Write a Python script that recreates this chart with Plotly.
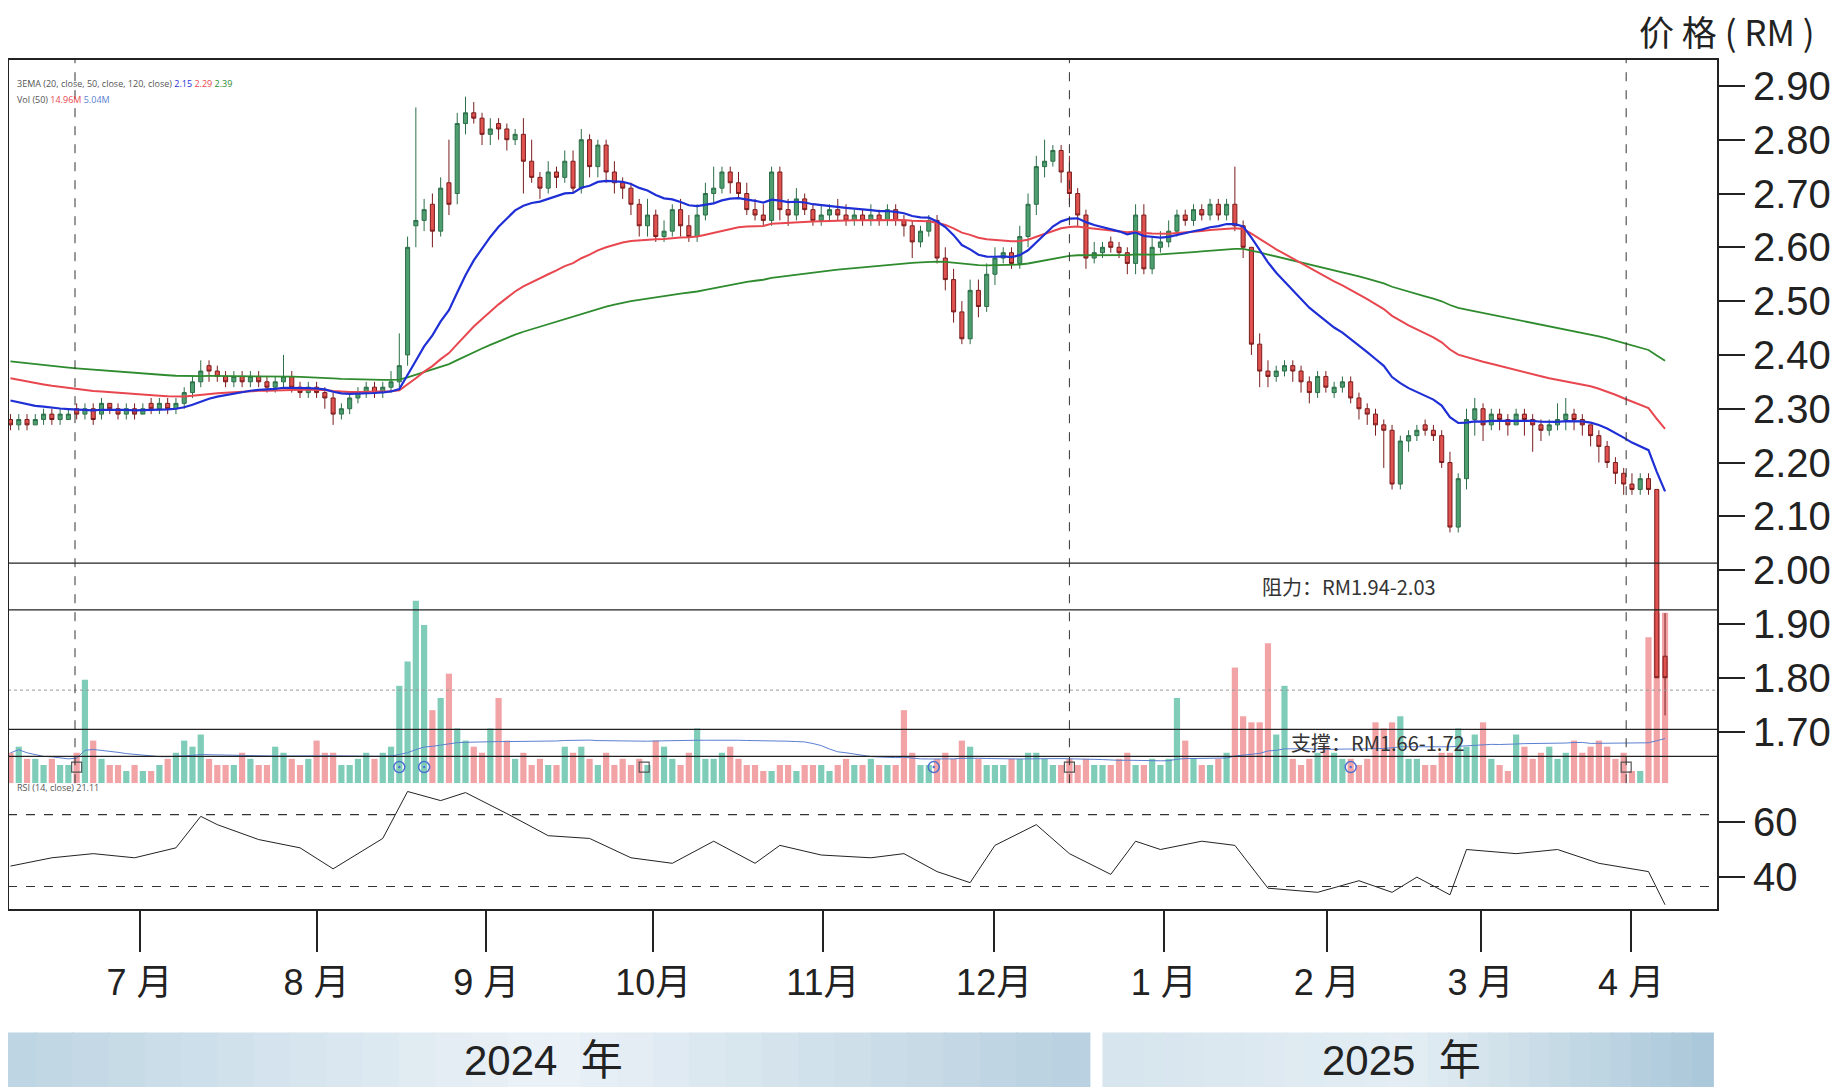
import plotly.graph_objects as go
import numpy as np
import pandas as pd

opens = [2.28,2.27,2.28,2.27,2.28,2.29,2.28,2.28,2.30,2.29,
 2.30,2.29,2.31,2.30,2.29,2.30,2.29,2.31,2.30,2.31,
 2.30,2.31,2.33,2.35,2.38,2.37,2.36,2.35,2.36,2.35,
 2.36,2.35,2.34,2.35,2.36,2.34,2.33,2.34,2.33,2.32,
 2.29,2.30,2.32,2.33,2.34,2.33,2.34,2.35,2.40,2.64,
 2.65,2.68,2.63,2.72,2.70,2.83,2.85,2.84,2.81,2.83,
 2.82,2.80,2.81,2.76,2.73,2.71,2.74,2.73,2.76,2.71,
 2.80,2.75,2.79,2.74,2.72,2.71,2.68,2.64,2.66,2.62,
 2.63,2.67,2.64,2.62,2.66,2.70,2.71,2.74,2.72,2.70,
 2.67,2.66,2.65,2.74,2.67,2.66,2.69,2.67,2.65,2.66,
 2.67,2.66,2.65,2.66,2.65,2.66,2.65,2.67,2.65,2.64,
 2.61,2.63,2.65,2.58,2.54,2.48,2.43,2.52,2.49,2.55,
 2.58,2.59,2.57,2.62,2.68,2.75,2.76,2.78,2.74,2.70,
 2.66,2.58,2.59,2.61,2.60,2.59,2.57,2.66,2.56,2.60,
 2.61,2.63,2.66,2.65,2.67,2.66,2.68,2.66,2.68,2.64,
 2.60,2.42,2.37,2.36,2.37,2.38,2.37,2.35,2.33,2.36,
 2.33,2.34,2.35,2.32,2.30,2.29,2.27,2.26,2.16,2.24,
 2.25,2.27,2.26,2.25,2.20,2.08,2.17,2.28,2.30,2.27,
 2.29,2.28,2.27,2.29,2.28,2.27,2.26,2.27,2.28,2.29,
 2.28,2.27,2.25,2.23,2.20,2.18,2.16,2.15,2.17,2.15,
 1.84]
highs = [2.29,2.29,2.29,2.29,2.30,2.30,2.30,2.30,2.31,2.31,
 2.31,2.32,2.31,2.31,2.31,2.31,2.31,2.32,2.32,2.32,
 2.32,2.34,2.36,2.39,2.39,2.38,2.37,2.37,2.37,2.37,
 2.37,2.36,2.36,2.40,2.37,2.35,2.35,2.35,2.34,2.33,
 2.31,2.33,2.34,2.35,2.35,2.35,2.37,2.44,2.62,2.86,
 2.69,2.70,2.73,2.80,2.85,2.88,2.87,2.85,2.84,2.84,
 2.83,2.82,2.84,2.80,2.74,2.76,2.75,2.78,2.78,2.82,
 2.81,2.80,2.80,2.76,2.73,2.72,2.69,2.69,2.67,2.65,
 2.68,2.69,2.66,2.68,2.72,2.75,2.75,2.75,2.74,2.72,
 2.69,2.68,2.75,2.75,2.69,2.71,2.70,2.68,2.68,2.68,
 2.69,2.68,2.67,2.67,2.68,2.67,2.68,2.68,2.66,2.65,
 2.64,2.66,2.66,2.60,2.56,2.50,2.54,2.54,2.57,2.60,
 2.60,2.60,2.64,2.70,2.77,2.80,2.79,2.79,2.77,2.71,
 2.67,2.61,2.61,2.62,2.61,2.60,2.68,2.68,2.62,2.63,
 2.65,2.67,2.67,2.68,2.68,2.69,2.69,2.69,2.75,2.65,
 2.60,2.44,2.39,2.38,2.39,2.39,2.38,2.36,2.37,2.37,
 2.35,2.36,2.36,2.33,2.31,2.30,2.28,2.27,2.25,2.26,
 2.27,2.28,2.27,2.26,2.22,2.18,2.30,2.32,2.31,2.30,
 2.30,2.29,2.30,2.30,2.29,2.28,2.28,2.31,2.32,2.30,
 2.29,2.27,2.26,2.24,2.21,2.19,2.18,2.18,2.18,2.15,
 1.92]
lows = [2.26,2.26,2.26,2.27,2.27,2.27,2.27,2.28,2.28,2.28,
 2.27,2.28,2.29,2.28,2.28,2.28,2.29,2.29,2.29,2.29,
 2.29,2.30,2.32,2.34,2.35,2.35,2.34,2.34,2.34,2.34,
 2.34,2.33,2.33,2.34,2.33,2.32,2.32,2.32,2.30,2.27,
 2.28,2.29,2.31,2.32,2.32,2.32,2.33,2.34,2.38,2.60,
 2.63,2.60,2.62,2.66,2.68,2.81,2.83,2.79,2.79,2.80,
 2.78,2.79,2.70,2.72,2.69,2.70,2.71,2.72,2.70,2.70,
 2.73,2.73,2.72,2.70,2.69,2.66,2.62,2.62,2.61,2.61,
 2.62,2.62,2.61,2.61,2.65,2.68,2.70,2.70,2.69,2.66,
 2.65,2.64,2.64,2.65,2.64,2.65,2.66,2.64,2.64,2.65,
 2.65,2.64,2.64,2.64,2.64,2.64,2.64,2.64,2.62,2.58,
 2.60,2.62,2.57,2.52,2.46,2.42,2.42,2.47,2.48,2.53,
 2.57,2.56,2.56,2.60,2.66,2.73,2.75,2.72,2.68,2.64,
 2.56,2.57,2.58,2.59,2.58,2.55,2.55,2.55,2.55,2.59,
 2.60,2.62,2.64,2.64,2.65,2.65,2.65,2.65,2.63,2.58,
 2.40,2.34,2.34,2.35,2.36,2.35,2.33,2.31,2.32,2.33,
 2.32,2.33,2.31,2.28,2.27,2.25,2.19,2.15,2.15,2.22,
 2.24,2.25,2.24,2.19,2.07,2.07,2.15,2.25,2.24,2.26,
 2.26,2.25,2.27,2.25,2.22,2.24,2.25,2.26,2.26,2.26,
 2.25,2.23,2.20,2.19,2.16,2.14,2.14,2.14,2.14,1.80,
 1.73]
closes = [2.27,2.28,2.27,2.28,2.29,2.28,2.29,2.29,2.29,2.30,
 2.28,2.31,2.30,2.29,2.30,2.29,2.30,2.30,2.31,2.30,
 2.31,2.33,2.35,2.37,2.37,2.36,2.35,2.36,2.35,2.36,
 2.35,2.34,2.35,2.36,2.34,2.33,2.34,2.33,2.32,2.29,
 2.30,2.32,2.33,2.34,2.33,2.34,2.35,2.38,2.60,2.65,
 2.67,2.63,2.71,2.68,2.83,2.85,2.84,2.81,2.82,2.82,
 2.80,2.81,2.76,2.73,2.71,2.74,2.73,2.76,2.71,2.80,
 2.75,2.79,2.74,2.72,2.71,2.68,2.64,2.66,2.62,2.63,
 2.67,2.64,2.62,2.66,2.70,2.71,2.74,2.72,2.70,2.67,
 2.66,2.65,2.74,2.67,2.66,2.69,2.67,2.65,2.66,2.67,
 2.66,2.65,2.66,2.65,2.66,2.65,2.67,2.65,2.64,2.61,
 2.63,2.65,2.58,2.54,2.48,2.43,2.52,2.49,2.55,2.58,
 2.59,2.57,2.62,2.68,2.75,2.76,2.78,2.74,2.70,2.66,
 2.58,2.59,2.60,2.60,2.59,2.57,2.66,2.56,2.60,2.61,
 2.63,2.66,2.65,2.67,2.66,2.68,2.66,2.68,2.64,2.60,
 2.42,2.37,2.36,2.37,2.38,2.37,2.35,2.33,2.36,2.34,
 2.34,2.35,2.32,2.30,2.29,2.27,2.26,2.16,2.24,2.25,
 2.26,2.26,2.25,2.20,2.08,2.17,2.28,2.30,2.27,2.29,
 2.28,2.27,2.29,2.28,2.27,2.26,2.27,2.28,2.29,2.28,
 2.27,2.25,2.23,2.20,2.18,2.16,2.15,2.17,2.15,1.80,
 1.80]
volumes = [5,6,4,4,3,4,3,3,5,17,
 7,4,3,3,2,3,2,2,3,4,
 5,7,6,8,4,3,3,3,5,4,
 3,3,6,5,4,3,4,7,5,5,
 3,3,4,5,4,5,6,16,20,30,
 26,12,14,18,9,7,6,5,9,14,
 7,4,5,3,4,3,3,6,5,6,
 4,3,5,3,4,3,4,3,7,6,
 4,3,5,9,4,4,5,6,4,3,
 3,2,2,3,3,2,3,3,3,2,
 3,4,3,3,4,3,3,3,12,5,
 3,3,4,5,4,7,6,4,3,3,
 3,4,4,5,5,4,3,3,4,3,
 4,3,3,3,4,5,3,3,4,3,
 4,14,7,4,3,3,4,5,19,11,
 10,10,23,8,16,4,3,4,5,6,
 5,4,4,3,4,10,9,10,11,4,
 4,3,3,5,5,9,6,8,10,4,
 3,2,8,6,4,5,6,4,5,7,
 5,6,7,6,4,5,2,2,24,28,
 28]
rsi_idx = [0,5,10,15,20,23,25,30,35,39,45,48,52,55,60,65,70,75,80,85,90,93,98,104,108,
           112,116,119,124,128,133,136,139,144,148,152,158,163,167,170,174,176,182,187,192,196,198,200]
rsi_vals = [44,47,48.5,47,50.6,62,59,53.6,50.6,43,54,71,67.7,70.6,63,55,54,47,45,53,45,51.5,48,47,48.5,
            42,38,51.5,59,48.5,41,53,50,53,51.5,36,34.5,38.7,34.5,40,33.6,50,48.5,50,45,43,42,30]
ema_seeds = {"20": 2.32, "50": 2.36, "120": 2.39}
month_pos = [15.6, 37, 57.5, 77.7, 98.2, 118.9, 139.4, 159.1, 177.7, 195.9]
month_labels = ["7 月", "8 月", "9 月", "10月", "11月", "12月", "1 月", "2 月", "3 月", "4 月"]
price_ticks = [2.9, 2.8, 2.7, 2.6, 2.5, 2.4, 2.3, 2.2, 2.1, 2.0, 1.9, 1.8, 1.7]
rsi_ticks = [60, 40]
divider_pos = [7.8, 128, 195.3]
resist = [1.926, 2.013]
support = [1.654, 1.704]
circle_idx = [47, 50, 111.6, 162]
square_idx = [8, 76.6, 128, 195.3]

n = len(closes)
x = np.arange(n)

def ema(series, span, seed):
    a = 2 / (span + 1)
    out = []
    v = seed
    for val in series:
        v = a * val + (1 - a) * v
        out.append(v)
    return out

e20 = ema(closes, 20, ema_seeds["20"])
e50 = ema(closes, 50, ema_seeds["50"])
e120 = ema(closes, 120, ema_seeds["120"])
volma = pd.Series(volumes).rolling(50, min_periods=1).mean()

vcol = ['#7fcdb9' if cl >= op else '#f2a3a6' for op, cl in zip(opens, closes)]

fig = go.Figure()
fig.add_trace(go.Bar(x=x, y=volumes, marker_color=vcol, marker_line_width=0, yaxis='y', width=0.75))
fig.add_trace(go.Scatter(x=x, y=volma, mode='lines', line=dict(color='#5a7fd0', width=1), yaxis='y'))
fig.add_trace(go.Scatter(x=x, y=e120, mode='lines', line=dict(color='#2e8b2e', width=1.8), yaxis='y3'))
fig.add_trace(go.Scatter(x=x, y=e50, mode='lines', line=dict(color='#e8474f', width=2), yaxis='y3'))
fig.add_trace(go.Scatter(x=x, y=e20, mode='lines', line=dict(color='#1f2fd6', width=2.2), yaxis='y3'))
fig.add_trace(go.Candlestick(x=x, open=opens, high=highs, low=lows, close=closes, yaxis='y3',
    increasing=dict(line=dict(color='#2c6e48', width=1), fillcolor='#4f9e70'),
    decreasing=dict(line=dict(color='#7a1c1c', width=1), fillcolor='#e0524f'),
    whiskerwidth=0))
fig.add_trace(go.Scatter(x=circle_idx, y=[1.634]*len(circle_idx), mode='markers', yaxis='y3',
    marker=dict(symbol='circle-dot', size=11, color='rgba(0,0,0,0)', line=dict(color='#4a6fd0', width=1.5))))
fig.add_trace(go.Scatter(x=square_idx, y=[1.634]*len(square_idx), mode='markers', yaxis='y3',
    marker=dict(symbol='square-open', size=10, color='#555', line=dict(width=1.2))))
fig.add_trace(go.Scatter(x=rsi_idx, y=rsi_vals, mode='lines', line=dict(color='#222', width=1), xaxis='x2', yaxis='y2'))

shapes = []
for p in resist + support:
    shapes.append(dict(type='line', xref='x domain', yref='y3', x0=0, x1=1, y0=p, y1=p, line=dict(color='#222', width=1.3)))
shapes.append(dict(type='line', xref='x domain', yref='y3', x0=0, x1=1, y0=1.777, y1=1.777, line=dict(color='#999', width=1, dash='dot')))
for dp in divider_pos:
    shapes.append(dict(type='line', xref='x', yref='y domain', x0=dp, x1=dp, y0=0, y1=1, line=dict(color='#333', width=1, dash='dash')))
for rv in [62.6, 36.6]:
    shapes.append(dict(type='line', xref='x2 domain', yref='y2', x0=0, x1=1, y0=rv, y1=rv, line=dict(color='#333', width=1.2, dash='dash')))
shapes.append(dict(type='rect', xref='paper', yref='paper', x0=0, x1=1, y0=0, y1=1, line=dict(color='#222', width=2)))

def band(x0, x1, c_left, c_mid, c_right, k=30):
    def mix(a, b, t):
        return tuple(int(a[i] + (b[i] - a[i]) * t) for i in range(3))
    for i in range(k):
        t = i / (k - 1)
        col = mix(c_left, c_mid, t * 2) if t < 0.5 else mix(c_mid, c_right, (t - 0.5) * 2)
        xa = x0 + (x1 - x0) * i / k
        xb = x0 + (x1 - x0) * (i + 1) / k
        shapes.append(dict(type='rect', xref='paper', yref='paper', x0=xa, x1=xb + 0.001, y0=-0.209, y1=-0.144,
                           line=dict(width=0), fillcolor='rgb(%d,%d,%d)' % col, layer='below'))
band(-0.005, 0.632, (190, 213, 227), (236, 243, 248), (185, 209, 224))
band(0.640, 0.9966, (215, 229, 238), (228, 238, 244), (170, 200, 218))

ann = [
    dict(text='价 格 ( RM )', x=1.058, y=1.033, xref='paper', yref='paper', xanchor='right', yanchor='middle', showarrow=False,
         font=dict(size=35, color='#222', family='Noto Sans CJK SC')),
    dict(text='2024  年', x=0.313, y=-0.177, xref='paper', yref='paper', xanchor='center', yanchor='middle', showarrow=False, font=dict(size=42, color='#222', family='Liberation Sans, Noto Sans CJK SC')),
    dict(text='2025  年', x=0.815, y=-0.177, xref='paper', yref='paper', xanchor='center', yanchor='middle', showarrow=False, font=dict(size=42, color='#222', family='Liberation Sans, Noto Sans CJK SC')),
    dict(text='阻力：RM1.94-2.03', x=151, y=1.969, xref='x', yref='y3', xanchor='left', showarrow=False, font=dict(size=20, color='#333', family='Noto Sans CJK SC')),
    dict(text='支撑：RM1.66-1.72', x=154.5, y=1.68, xref='x', yref='y3', xanchor='left', showarrow=False, font=dict(size=20, color='#333', family='Noto Sans CJK SC')),
    dict(text='3EMA (20, close, 50, close, 120, close) <span style="color:#1f2fd6">2.15</span> <span style="color:#e8474f">2.29</span> <span style="color:#2e8b2e">2.39</span>',
         x=0.004, y=0.981, xref='paper', yref='paper', xanchor='left', showarrow=False, font=dict(size=9, color='#555')),
    dict(text='Vol (50) <span style="color:#e8474f">14.96M</span> <span style="color:#5a7fd0">5.04M</span>',
         x=0.004, y=0.962, xref='paper', yref='paper', xanchor='left', showarrow=False, font=dict(size=9, color='#555')),
    dict(text='RSI (14, close) 21.11', x=0.004, y=0.134, xref='paper', yref='paper', xanchor='left', showarrow=False, font=dict(size=9, color='#555')),
]

axfont = dict(size=40, color='#222', family='Liberation Sans')
fig.update_layout(
    width=1845, height=1087, showlegend=False, paper_bgcolor='white', plot_bgcolor='white',
    margin=dict(l=0, r=135, t=51, b=185), shapes=shapes, annotations=ann,
    xaxis=dict(range=[-0.3, 206.4], domain=[0, 1], anchor='y', showticklabels=False, showgrid=False,
               zeroline=False, rangeslider=dict(visible=False), ticks=''),
    xaxis2=dict(range=[-0.3, 206.4], domain=[0, 1], anchor='y2', matches='x', showgrid=False, zeroline=False,
                tickvals=month_pos, ticktext=month_labels, ticks='outside', ticklen=41, tickwidth=2, tickcolor='#222',
                tickfont=dict(size=36, color='#222', family='Liberation Sans, Noto Sans CJK SC')),
    yaxis=dict(domain=[0.149, 1], range=[0, 119], visible=False),
    yaxis3=dict(overlaying='y', range=[1.604, 2.950], side='right', tickvals=price_ticks,
               ticktext=['%.2f' % v for v in price_ticks], ticks='outside', ticklen=26, tickwidth=2,
               tickcolor='#222', tickfont=axfont, showgrid=False, zeroline=False),
    yaxis2=dict(domain=[0, 0.149], range=[28.1, 74], side='right', anchor='x2', tickvals=rsi_ticks,
                ticks='outside', ticklen=26, tickwidth=2, tickcolor='#222', tickfont=axfont,
                showgrid=False, zeroline=False),
)
fig.write_html('out.html')
